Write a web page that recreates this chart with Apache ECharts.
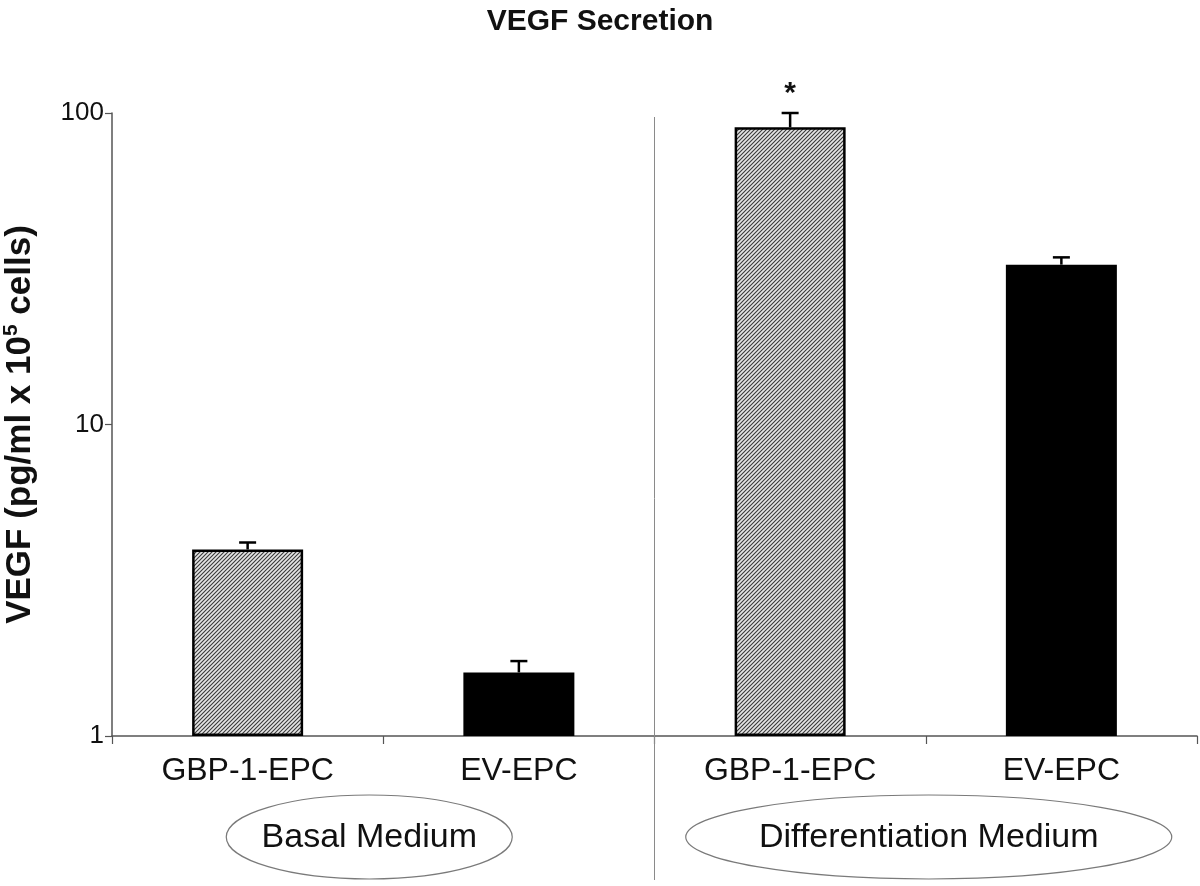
<!DOCTYPE html>
<html>
<head>
<meta charset="utf-8">
<script src="https://cdn.jsdelivr.net/npm/echarts@6/dist/echarts.min.js"></script>
<style>
html,body{margin:0;padding:0;background:#fff;}
#chart{width:1200px;height:886px;}
</style>
</head>
<body>
<div id="chart"></div>
<script>
// ---- data ----
var categories = ['GBP-1-EPC', 'EV-EPC', 'GBP-1-EPC', 'EV-EPC'];
var vegfMean = [3.97, 1.60, 90.0, 32.6];
var vegfUpper = [4.18, 1.74, 100.0, 34.4];
var significance = ['', '', '*', ''];
var media = ['Basal Medium', 'Differentiation Medium'];
var yTicks = [1, 10, 100];

// ---- styles ----
var FONT = '"Liberation Sans", Arial, sans-serif';
function hatchPattern() {
  var c = document.createElement('canvas');
  c.width = 4; c.height = 4;
  var g = c.getContext('2d');
  g.fillStyle = '#e6e6e6';
  g.fillRect(0, 0, 4, 4);
  g.strokeStyle = '#3a3a3a';
  g.lineWidth = 1.1;
  g.beginPath();
  g.moveTo(-1, 5); g.lineTo(5, -1);
  g.moveTo(-1, 1); g.lineTo(1, -1);
  g.moveTo(3, 5); g.lineTo(5, 3);
  g.stroke();
  return c;
}
var hatch = { image: hatchPattern(), repeat: 'repeat' };
var fillFor = { 'GBP-1-EPC': hatch, 'EV-EPC': '#000000' };
var ellipseStyle = { 'Basal Medium': { dx: -14, rx: 143 }, 'Differentiation Medium': { dx: 3, rx: 243 } };

var barData = vegfMean.map(function (v, i) {
  return { value: v, itemStyle: { color: fillFor[categories[i]] } };
});
var errData = vegfMean.map(function (v, i) { return [i, v, vegfUpper[i], significance[i]]; });

var chart = echarts.init(document.getElementById('chart'), null, { renderer: 'canvas' });
var option = {
  backgroundColor: '#ffffff',
  animation: false,
  title: {
    text: 'VEGF Secretion', left: 'center', top: 2,
    textStyle: { fontFamily: FONT, fontSize: 30, fontWeight: 'bold', color: '#111' }
  },
  grid: { left: 112, right: 3, top: 113, bottom: 150, containLabel: false, outerBoundsMode: 'none' },
  xAxis: {
    type: 'category',
    data: categories,
    axisLine: { lineStyle: { color: '#555', width: 1.5 } },
    axisTick: { show: true, length: 8, interval: 0, lineStyle: { color: '#555', width: 1.2 } },
    axisLabel: { interval: 0, fontFamily: FONT, fontSize: 32, color: '#111', margin: 19 },
    splitLine: { show: false }
  },
  yAxis: {
    type: 'log', logBase: 10, min: 1, max: 100,
    axisLine: { show: true, lineStyle: { color: '#555', width: 1.5 } },
    axisTick: { show: true, length: 7, lineStyle: { color: '#555', width: 1.2 } },
    axisLabel: {
      fontFamily: FONT, fontSize: 26, color: '#111', margin: 8,
      formatter: function (v) { return yTicks.indexOf(Math.round(v)) >= 0 ? String(Math.round(v)) : ''; }
    },
    splitLine: { show: false },
    name: '{b|VEGF (pg/ml x 10}{s|5}{b| cells)}',
    nameLocation: 'middle',
    nameRotate: 90,
    nameGap: 73,
    nameTextStyle: {
      rich: {
        b: { fontFamily: FONT, fontSize: 35, fontWeight: 'bold', color: '#111', lineHeight: 38 },
        s: { fontFamily: FONT, fontSize: 21, fontWeight: 'bold', color: '#111', lineHeight: 21, verticalAlign: 'top' }
      }
    }
  },
  series: [
    {
      type: 'bar',
      data: barData,
      barWidth: 111,
      itemStyle: { borderColor: '#000', borderWidth: 2.5 },
      z: 2
    },
    {
      type: 'custom',
      data: errData,
      z: 3,
      renderItem: function (params, api) {
        var x = api.value(0);
        var top = api.coord([x, api.value(1)]);
        var hi = api.coord([x, api.value(2)]);
        var half = 8.5;
        var children = [
          { type: 'line', shape: { x1: top[0], y1: top[1], x2: hi[0], y2: hi[1] }, style: { stroke: '#000', lineWidth: 2.5 } },
          { type: 'line', shape: { x1: hi[0] - half, y1: hi[1], x2: hi[0] + half, y2: hi[1] }, style: { stroke: '#000', lineWidth: 2.5 } }
        ];
        var mark = api.value(3);
        if (mark) {
          children.push({ type: 'text', style: { text: mark, x: hi[0], y: hi[1] - 4, align: 'center', verticalAlign: 'bottom', font: 'bold 30px ' + FONT, fill: '#111' } });
        }
        return { type: 'group', children: children };
      }
    }
  ]
};
chart.setOption(option);

// decorations: divider between media and ellipse labels under each pair
var mediaFont = '34px ' + FONT;
var p0 = chart.convertToPixel({ xAxisIndex: 0 }, 0);
var p1 = chart.convertToPixel({ xAxisIndex: 0 }, 1);
var p2 = chart.convertToPixel({ xAxisIndex: 0 }, 2);
var p3 = chart.convertToPixel({ xAxisIndex: 0 }, 3);
var divX = (p1 + p2) / 2;
var centers = [(p0 + p1) / 2, (p2 + p3) / 2];
var yTop = chart.convertToPixel({ yAxisIndex: 0 }, 100);
var graphics = [
  { type: 'line', shape: { x1: divX, y1: yTop + 4, x2: divX, y2: 880 }, style: { stroke: '#8a8a8a', lineWidth: 1 }, z: 1 }
];
media.forEach(function (m, i) {
  var st = ellipseStyle[m];
  var cx = centers[i] + st.dx;
  graphics.push({ type: 'ellipse', shape: { cx: cx, cy: 837, rx: st.rx, ry: 42 }, style: { fill: 'none', stroke: '#7a7a7a', lineWidth: 1.2 }, z: 5 });
  graphics.push({ type: 'text', x: cx, y: 838, style: { text: m, font: mediaFont, fill: '#111', align: 'center', verticalAlign: 'middle' }, z: 6 });
});
chart.setOption({ graphic: graphics });
</script>
</body>
</html>
